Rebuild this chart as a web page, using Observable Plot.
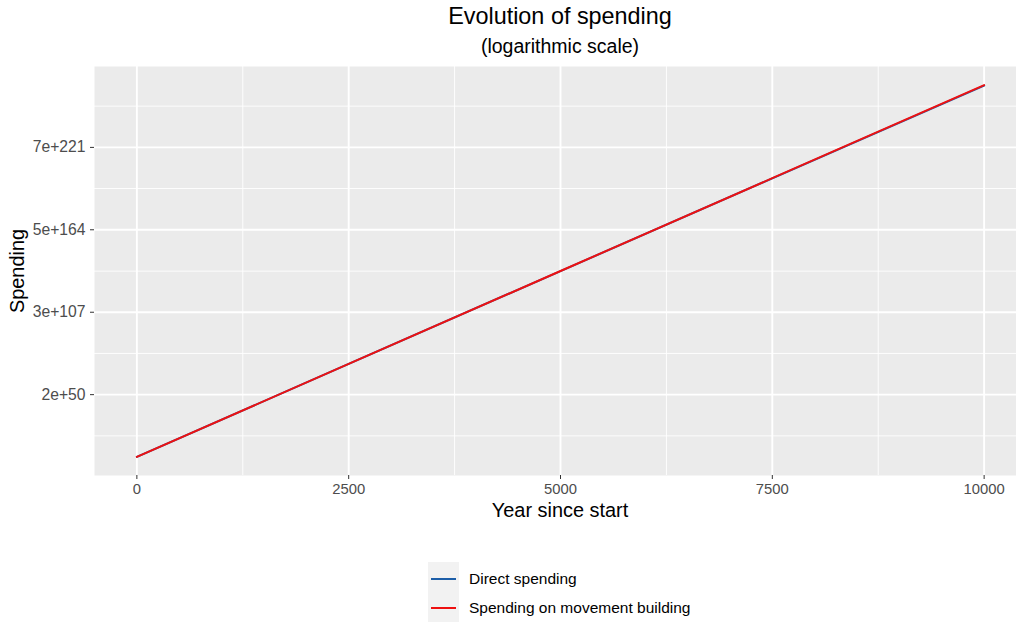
<!DOCTYPE html>
<html>
<head>
<meta charset="utf-8">
<script src="https://cdn.jsdelivr.net/npm/d3@7"></script>
<script src="https://cdn.jsdelivr.net/npm/@observablehq/plot@0.6"></script>
<style>
  html, body { margin: 0; padding: 0; background: #ffffff; }
  #wrap { position: relative; width: 1016px; height: 624px; overflow: hidden; background: #ffffff;
          font-family: "Liberation Sans", Arial, Helvetica, sans-serif; color: #000; }
  .abs { position: absolute; white-space: nowrap; }
  #plot { position: absolute; left: 0; top: 0; width: 1026px; }
  #plot svg { max-width: none !important; }
</style>
</head>
<body>
<div id="wrap">
  <div id="plot"></div>
  <div class="abs" id="title" style="left:0;width:1120px;text-align:center;top:3px;font-size:23.4px;">Evolution of spending</div>
  <div class="abs" id="subtitle" style="left:0;width:1120px;text-align:center;top:35px;font-size:19.5px;">(logarithmic scale)</div>
  <div class="abs" id="ylab" style="left:17px;top:271px;font-size:19.9px;transform:translate(-50%,-50%) rotate(-90deg);">Spending</div>
  <div class="abs" id="xlab" style="left:0;width:1120px;text-align:center;top:499px;font-size:19.9px;">Year since start</div>
  <div class="abs" id="legend" style="left:428px;top:562px;"></div>
</div>
<script>
// ---- data ----
const years = [0, 2500, 5000, 7500, 10000];
const directSpending = [1.26e7, 4e71, 1.1e136, 2.5e200, 5e264];
const movementSpending = [1.26e7, 4e71, 1.2e136, 3e200, 1.2e265];
const seriesNames = ["Direct spending", "Spending on movement building"];
const seriesColors = ["#1d5ea8", "#ee1111"];
const xTicks = [0, 2500, 5000, 7500, 10000];
const xMinor = [1250, 3750, 6250, 8750];
const yTicks = [2e50, 3e107, 5e164, 7e221];
const yMinor = [5e21, 8e78, 1e136, 2e193, 3e250];

const data = [];
years.forEach((yr, i) => data.push({year: yr, value: directSpending[i], series: seriesNames[0]}));
years.forEach((yr, i) => data.push({year: yr, value: movementSpending[i], series: seriesNames[1]}));

// ggplot-like 5% expansion (in log space for y)
const lx = d3.extent(data, d => Math.log10(d.value));
const ly = (lx[1] - lx[0]) * 0.05;
const yDomain = [Math.pow(10, lx[0] - ly), Math.pow(10, lx[1] + ly)];
const xr = d3.extent(years);
const xe = (xr[1] - xr[0]) * 0.05;

const chart = Plot.plot({
  width: 1026,
  height: 530,
  marginTop: 66,
  marginBottom: 55,
  marginLeft: 94,
  marginRight: 0,
  style: {fontFamily: "Liberation Sans, Arial, sans-serif", fontSize: "15px", background: "transparent", maxWidth: "none"},
  x: {domain: [xr[0] - xe, xr[1] + xe]},
  y: {type: "log", domain: yDomain},
  color: {domain: seriesNames, range: seriesColors},
  marks: [
    Plot.frame({fill: "#ebebeb", stroke: null}),
    Plot.ruleY(yMinor, {stroke: "#ffffff", strokeWidth: 0.9}),
    Plot.ruleX(xMinor, {stroke: "#ffffff", strokeWidth: 0.9}),
    Plot.ruleY(yTicks, {stroke: "#ffffff", strokeWidth: 1.9}),
    Plot.ruleX(xTicks, {stroke: "#ffffff", strokeWidth: 1.9}),
    Plot.line(data, {x: "year", y: "value", z: "series", stroke: "series", strokeWidth: 2}),
    Plot.axisX({ticks: xTicks, tickFormat: d3.format("d"), tickSize: 4, tickPadding: 4,
                stroke: "#333333", fill: "#4d4d4d", label: null, fontSize: 14.8}),
    Plot.axisY({ticks: yTicks, tickFormat: d => d.toExponential(0), tickSize: 4, tickPadding: 5,
                stroke: "#333333", fill: "#4d4d4d", label: null, fontSize: 15.7})
  ]
});
chart.style.maxWidth = "none";
document.getElementById("plot").appendChild(chart);

// legend
const leg = document.getElementById("legend");
const box = document.createElement("div");
box.style.cssText = "position:absolute;left:0;top:0;width:31px;height:60px;background:#f2f2f2;";
leg.appendChild(box);
seriesNames.forEach((name, i) => {
  const cy = 17 + i * 29;
  const ln = document.createElement("div");
  ln.style.cssText = `position:absolute;left:3px;top:${cy - 1}px;width:25px;height:2px;background:${seriesColors[i]};`;
  leg.appendChild(ln);
  const tx = document.createElement("div");
  tx.className = "abs";
  tx.style.cssText = `position:absolute;left:41px;top:${cy - 9}px;font-size:15.5px;line-height:18px;white-space:nowrap;`;
  tx.textContent = name;
  leg.appendChild(tx);
});
</script>
</body>
</html>
